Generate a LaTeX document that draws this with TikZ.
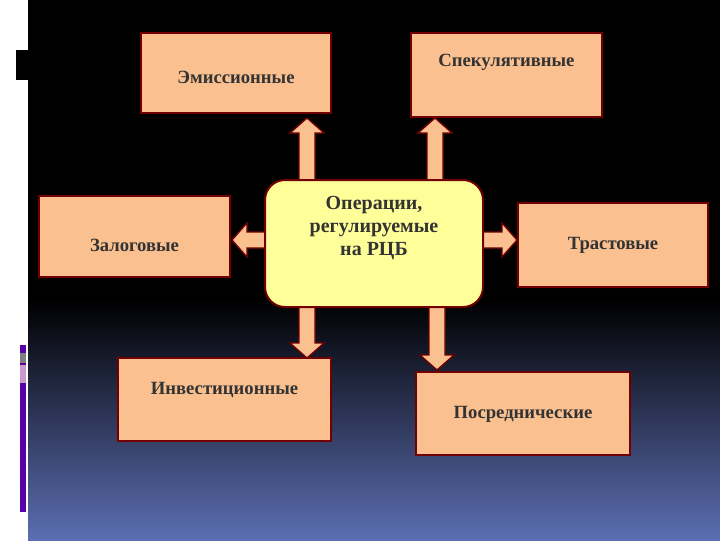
\documentclass[tikz,border=0pt]{standalone}
\usepackage{fontspec}
\setmainfont{Liberation Serif}
\begin{document}
\begin{tikzpicture}[x=0.75pt,y=-0.75pt,
  box/.style={draw=red!45!black,line width=1.5pt},
  arr/.style={draw=red!45!black,line width=1pt},
  lbl/.style={font=\bfseries\fontsize{14}{16}\selectfont,text=black!80,align=center}]
\definecolor{peach}{HTML}{FAC090}
\tikzset{box/.append style={fill=peach},arr/.append style={fill=peach}}
\useasboundingbox (0,0) rectangle (720,540);
\fill[white] (0,0) rectangle (28,540);
\fill[black] (28,0) rectangle (720,300);
\shade[top color=black,bottom color={rgb,255:red,92;green,110;blue,178}] (28,299) rectangle (720,540);
\fill[black] (16,50) rectangle (28,80);
\fill[violet!70!blue] (20,345) rectangle (26,512);
\fill[gray] (20,353) rectangle (26,363);
\fill[violet!40] (20,365) rectangle (26,383);
\newcommand\uparr[3]{\filldraw[arr] (#1-8,#2) -- (#1-8,#3+15) -- (#1-17,#3+15) -- (#1,#3) -- (#1+17,#3+15) -- (#1+8,#3+15) -- (#1+8,#2) -- cycle;}
\newcommand\dnarr[3]{\filldraw[arr] (#1-8,#2) -- (#1-8,#3-15) -- (#1-17,#3-15) -- (#1,#3) -- (#1+17,#3-15) -- (#1+8,#3-15) -- (#1+8,#2) -- cycle;}
\newcommand\hzarr[4]{\filldraw[arr] (#2,#1-8) -- (#4,#1-8) -- (#4,#1-17) -- (#3,#1) -- (#4,#1+17) -- (#4,#1+8) -- (#2,#1+8) -- cycle;}
\uparr{307}{182}{118}
\uparr{435}{182}{118}
\dnarr{307}{305}{358}
\dnarr{437}{305}{370}
\hzarr{240}{267}{232}{247}
\hzarr{240}{481}{517}{502}
\node[box,minimum width=190pt*0.75,minimum height=80pt*0.75] (emis) at (236,73) {};
\node[lbl] at (236,77) {Эмиссионные};
\node[box,minimum width=191pt*0.75,minimum height=84pt*0.75] (spek) at (506.5,75) {};
\node[lbl] at (506.5,62) {Спекулятивные};
\node[box,minimum width=191pt*0.75,minimum height=81pt*0.75] (zal) at (134.5,236.5) {};
\node[lbl] at (134.5,245) {Залоговые};
\node[box,minimum width=190pt*0.75,minimum height=84pt*0.75] (tr) at (613,245) {};
\node[lbl] at (613,245) {Трастовые};
\node[box,minimum width=213pt*0.75,minimum height=83pt*0.75] (inv) at (224.5,399.5) {};
\node[lbl] at (224.5,390) {Инвестиционные};
\node[box,minimum width=214pt*0.75,minimum height=83pt*0.75] (pos) at (523,413.5) {};
\node[lbl] at (523,414) {Посреднические};
\node[box,fill={rgb,255:red,255;green,255;blue,153},rounded corners=15pt,minimum width=218pt*0.75,minimum height=127pt*0.75] (c) at (374,243.5) {};
\node[lbl,font=\bfseries\fontsize{15}{17}\selectfont] at (374,228) {Операции,\\регулируемые\\на РЦБ};
\end{tikzpicture}
\end{document}
